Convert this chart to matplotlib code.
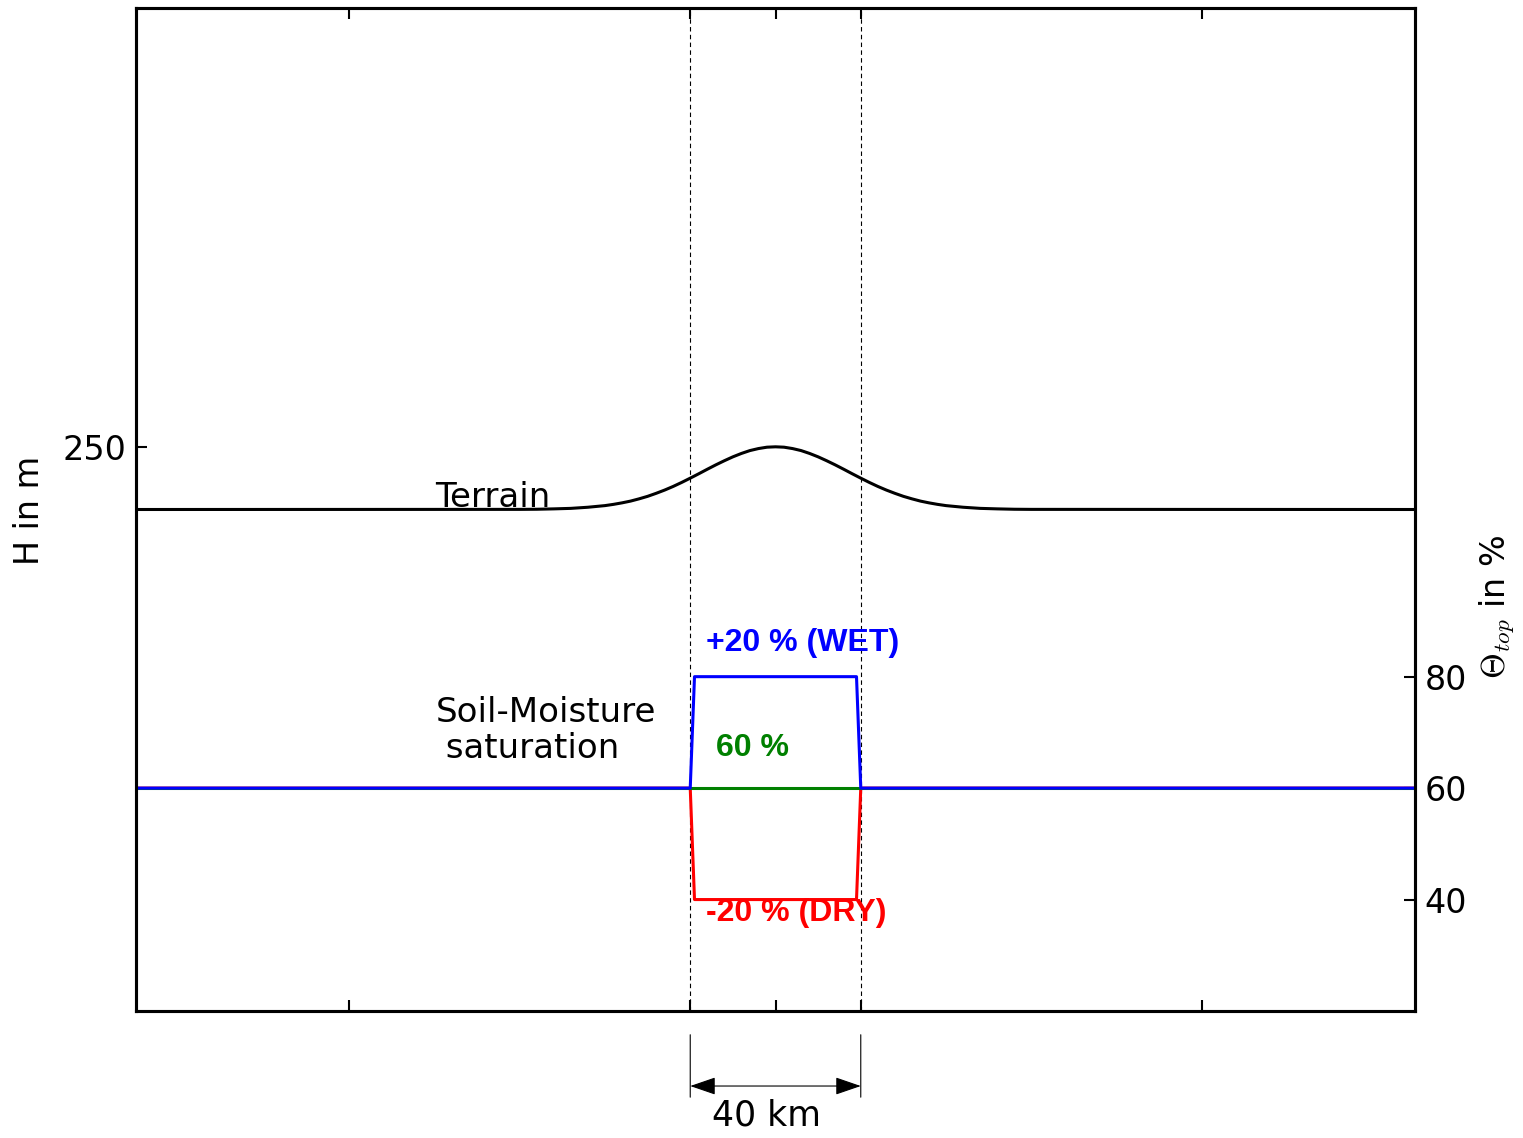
import matplotlib
matplotlib.use("Agg")
import matplotlib.pyplot as plt

# ---- data ----
terrain_x = [-150, -60, -56, -52, -48, -44, -40, -38, -36, -34, -32, -30, -28, -26, -24, -22,
             -20, -18, -16, -14, -12, -10, -8, -6, -4, -2, 0,
             2, 4, 6, 8, 10, 12, 14, 16, 18, 20, 22, 24, 26, 28, 30, 32, 34, 36, 38, 40,
             44, 48, 52, 56, 60, 150]
terrain_h = [200, 200.1, 200.2, 200.5, 200.9, 201.8, 203.1, 204.1, 205.3, 206.7, 208.5, 210.5,
             212.9, 215.5, 218.4, 221.6, 225.0, 228.5, 232.1, 235.6, 238.9, 242.0, 244.7,
             247.0, 248.6, 249.7, 250.0,
             249.7, 248.6, 247.0, 244.7, 242.0, 238.9, 235.6, 232.1, 228.5, 225.0, 221.6,
             218.4, 215.5, 212.9, 210.5, 208.5, 206.7, 205.3, 204.1, 203.1,
             201.8, 200.9, 200.5, 200.2, 200.1, 200]
wet_x = [-150, -20, -19, 19, 20, 150]
wet_theta = [60, 60, 80, 80, 60, 60]
dry_x = [-150, -20, -19, 19, 20, 150]
dry_theta = [60, 60, 40, 40, 60, 60]
ref_x = [-150, 150]
ref_theta = [60, 60]
xtick_pos = [-100, -20, 0, 20, 100]
h_ticks = [250]
theta_ticks = [40, 60, 80]
patch_edges = [-20, 20]

fig = plt.figure(figsize=(15.23, 11.38), dpi=100)
ax = fig.add_axes([136/1523, 1 - 1011/1138, 1279/1523, 1003/1138])
ax2 = ax.twinx()

ax.set_xlim(-150, 150)
ax.set_ylim(-200, 600)
ax2.set_ylim(20, 200)

ax.plot(terrain_x, terrain_h, color="black", lw=2.2, solid_capstyle="butt",
        solid_joinstyle="round")
for xe in patch_edges:
    ax.axvline(xe, color="black", lw=0.8, ls=(0, (4, 3)))

ax2.plot(dry_x, dry_theta, color="red", lw=2.2)
ax2.plot(ref_x, ref_theta, color="green", lw=2.2)
ax2.plot(wet_x, wet_theta, color="blue", lw=2.2)

# ticks
ax.set_xticks(xtick_pos)
ax.set_xticklabels([])
ax.set_yticks(h_ticks)
ax.tick_params(axis="x", direction="in", length=8, width=1.5, top=True, bottom=True)
ax.tick_params(axis="y", direction="in", length=8, width=1.5, left=True, right=False,
               labelsize=24, pad=7)
ax2.set_yticks(theta_ticks)
ax2.tick_params(axis="y", direction="in", length=8, width=1.5, left=False, right=True,
                labelsize=24, pad=7)
for a in (ax, ax2):
    for s in a.spines.values():
        s.set_linewidth(2.2)

# axis labels
ax.text(-0.0829, 0.4995, "H in m", transform=ax.transAxes, rotation=90,
        ha="center", va="center", fontsize=24)
ax.text(1.064, 0.403, r"$\mathcal{\Theta}_{top}$ in %", transform=ax.transAxes, rotation=90,
        ha="center", va="center", fontsize=24, math_fontfamily="cm")

# annotations
ax.text(-79.8, 202, "Terrain", fontsize=24.5, ha="left", va="baseline")
ax2.text(-79.8, 70.3, "Soil-Moisture\n saturation", fontsize=24.5, ha="left", va="center",
         linespacing=1.12)
bold = dict(family=["Liberation Sans", "DejaVu Sans"], fontweight="bold", fontsize=23)
ax2.text(-16.3, 86.0, "+20 % (WET)", color="blue", ha="left", va="center", **bold)
ax2.text(-14.0, 67.2, "60 %", color="green", ha="left", va="center", **bold)
ax2.text(-16.3, 37.6, "-20 % (DRY)", color="red", ha="left", va="center", **bold)

# 40 km dimension below the axes
for xe in patch_edges:
    ax.annotate("", xy=(xe, -0.0209), xytext=(xe, -0.0887),
                xycoords=("data", "axes fraction"), textcoords=("data", "axes fraction"),
                arrowprops=dict(arrowstyle="-", color="black", lw=0.8), annotation_clip=False)
ax.annotate("", xy=(patch_edges[0], -0.0748), xytext=(patch_edges[1], -0.0748),
            xycoords=("data", "axes fraction"), textcoords=("data", "axes fraction"),
            arrowprops=dict(arrowstyle="<|-|>,head_length=1.6,head_width=0.55",
                            color="black", lw=0.8, shrinkA=0, shrinkB=0),
            annotation_clip=False)
ax.annotate("40 km", xy=(-2, -0.1037), xycoords=("data", "axes fraction"),
            ha="center", va="center", fontsize=25, annotation_clip=False)

fig.savefig("out.png", dpi=100)
